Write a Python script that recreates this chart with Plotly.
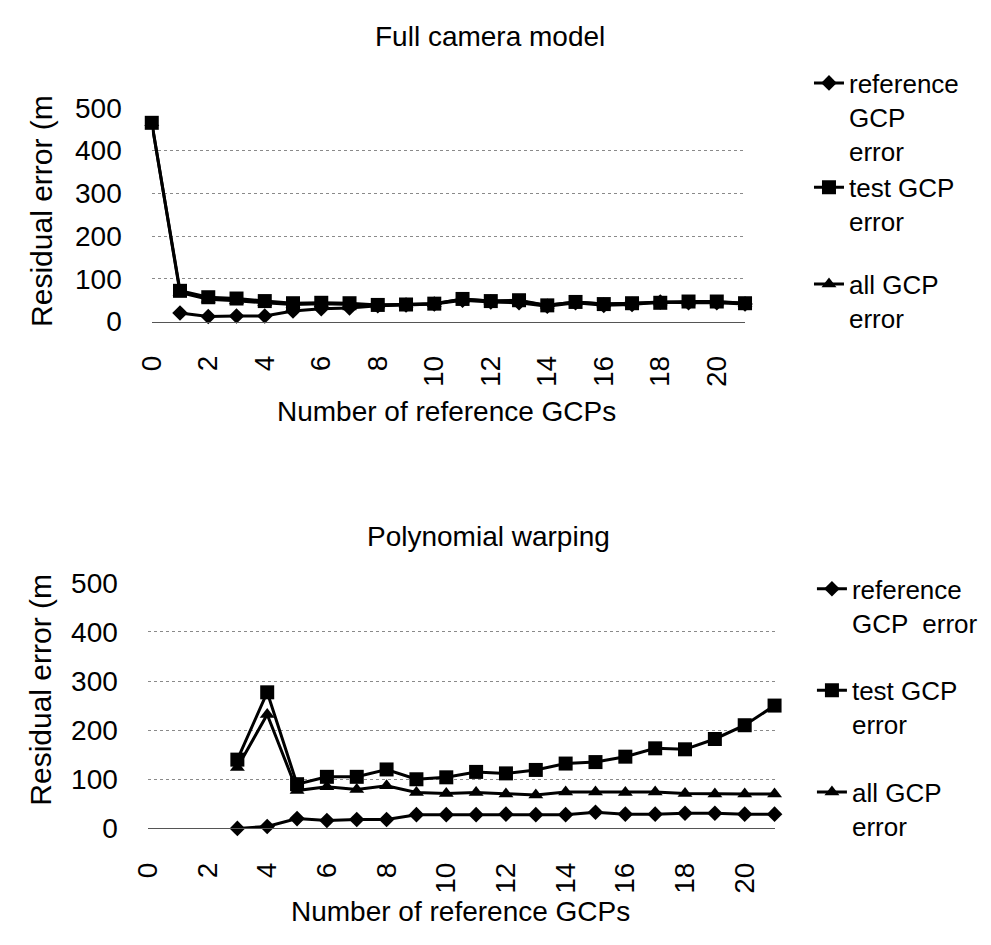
import plotly.graph_objects as go

# ---------------- data ----------------
x_full = list(range(0, 22))
full_reference = [None, 20, 12, 13, 13, 25, 30, 32, 37, 39, 41, 50, 46, 44, 36, 44, 38, 40, 46, 44, 44, 41]
full_test = [465, 72, 57, 54, 48, 43, 44, 43, 39, 40, 42, 53, 48, 50, 38, 46, 41, 43, 44, 47, 47, 43]
full_all = [465, 68, 52, 49, 44, 40, 42, 41, 39, 40, 42, 52, 48, 48, 38, 46, 41, 43, 46, 46, 46, 43]

x_poly = list(range(3, 22))
poly_reference = [0, 4, 20, 16, 18, 18, 28, 28, 28, 29, 28, 28, 33, 29, 29, 31, 31, 29, 29]
poly_test = [140, 277, 90, 105, 105, 120, 100, 104, 115, 112, 119, 132, 135, 146, 163, 161, 182, 210, 250]
poly_all = [124, 232, 77, 85, 79, 87, 73, 71, 73, 70, 68, 74, 74, 73, 74, 71, 70, 70, 70]

names_full = ["reference<br>GCP<br>error", "test GCP<br>error", "all GCP<br>error"]
names_poly = ["reference<br>GCP  error", "test GCP<br>error", "all GCP<br>error"]

titles = ["Full camera model", "Polynomial warping"]
x_title = "Number of reference GCPs"
y_title = "Residual error (m"

W, H = 991, 945
FONT = "Liberation Sans"

fig = go.Figure()

symbols = ["diamond", "square", "triangle-up"]
sizes = [12, 14, 13]
groups_full = ["fA", "fA", "fB"]

for i, (ys, nm) in enumerate(zip([full_reference, full_test, full_all], names_full)):
    fig.add_trace(go.Scatter(
        x=x_full, y=ys, mode="lines+markers", name=nm,
        line=dict(color="black", width=3),
        marker=dict(symbol=symbols[i], size=sizes[i], color="black"),
        xaxis="x", yaxis="y", legend="legend", legendgroup=groups_full[i],
        cliponaxis=False,
    ))

for i, (ys, nm) in enumerate(zip([poly_reference, poly_test, poly_all], names_poly)):
    fig.add_trace(go.Scatter(
        x=x_poly, y=ys, mode="lines+markers", name=nm,
        line=dict(color="black", width=3),
        marker=dict(symbol=symbols[i], size=sizes[i], color="black"),
        xaxis="x2", yaxis="y2", legend="legend2", legendgroup="p%d" % i,
        cliponaxis=False,
    ))

def X(p):
    return p / W

def Y(p):
    return 1 - p / H

common_x = dict(
    range=[0, 21], tick0=0, dtick=2, tickangle=-90,
    showgrid=False, zeroline=False, showline=True, linecolor="#555555", linewidth=1,
    ticks="", ticklabelstandoff=22,
    tickfont=dict(family=FONT, size=28, color="black"),
)
common_y = dict(
    range=[0, 500], tick0=0, dtick=100, showgrid=False, zeroline=False, showline=False,
    ticks="", ticklabelstandoff=29,
    tickfont=dict(family=FONT, size=28, color="black"),
    minor=dict(tickvals=[100, 200, 300, 400], showgrid=True, gridcolor="#8a8a8a",
               griddash="dot", gridwidth=1, ticks=""),
)

fig.update_layout(
    width=W, height=H,
    margin=dict(l=0, r=0, t=0, b=0),
    paper_bgcolor="white", plot_bgcolor="white",
    font=dict(family=FONT, color="black"),
    xaxis=dict(domain=[X(138), X(741)], anchor="y", **common_x),
    yaxis=dict(domain=[Y(317), Y(96)], anchor="x", **common_y),
    xaxis2=dict(domain=[X(134), X(771)], anchor="y2", **common_x),
    yaxis2=dict(domain=[Y(841), Y(587)], anchor="x2", **common_y),
    legend=dict(x=X(806), y=Y(46), xanchor="left", yanchor="top",
                font=dict(family=FONT, size=26, color="black"),
                bgcolor="rgba(0,0,0,0)", valign="top", tracegroupgap=26,
                itemwidth=30),
    legend2=dict(x=X(809), y=Y(569), xanchor="left", yanchor="top",
                 font=dict(family=FONT, size=26, color="black"),
                 bgcolor="rgba(0,0,0,0)", valign="top", tracegroupgap=31,
                 itemwidth=30),
    showlegend=True,
)

ann = []
ann.append(dict(text=titles[0], x=X(482), y=Y(22), xref="paper", yref="paper",
                yanchor="middle", showarrow=False, font=dict(family=FONT, size=28)))
ann.append(dict(text=titles[1], x=X(480), y=Y(539), xref="paper", yref="paper",
                yanchor="middle", showarrow=False, font=dict(family=FONT, size=28)))
ann.append(dict(text=x_title, x=X(438), y=Y(410), xref="paper", yref="paper",
                yanchor="middle", showarrow=False, font=dict(family=FONT, size=28)))
ann.append(dict(text=x_title, x=X(452), y=Y(927), xref="paper", yref="paper",
                yanchor="middle", showarrow=False, font=dict(family=FONT, size=28)))
ann.append(dict(text=y_title, x=X(26), y=Y(325), xref="paper", yref="paper",
                xanchor="center", yanchor="bottom", textangle=-90,
                showarrow=False, font=dict(family=FONT, size=30)))
ann.append(dict(text=y_title, x=X(24), y=Y(820), xref="paper", yref="paper",
                xanchor="center", yanchor="bottom", textangle=-90,
                showarrow=False, font=dict(family=FONT, size=30)))
fig.update_layout(annotations=ann)

fig.write_html("out.html", config={"displayModeBar": False},
               post_script="document.body.style.margin='0';document.body.style.overflow='hidden';")
